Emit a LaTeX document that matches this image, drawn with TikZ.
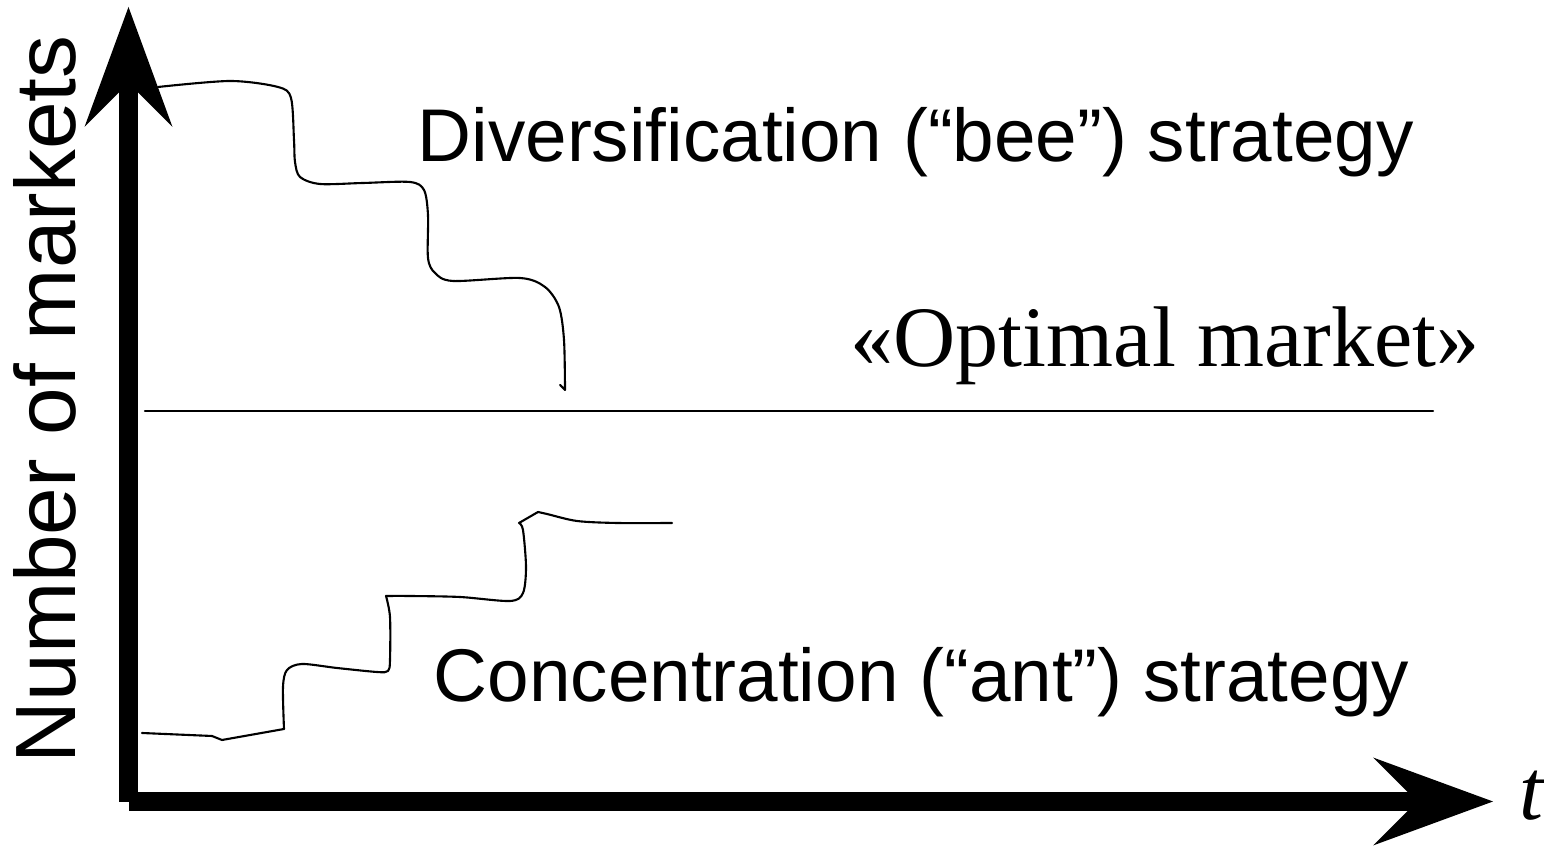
\documentclass[tikz,border=0pt]{standalone}
\usepackage{fontspec}
\usetikzlibrary{arrows.meta}
\newfontfamily\axisfont{Liberation Sans}
\newfontfamily\timesfont{Liberation Serif}

\begin{document}
\begin{tikzpicture}[
    axis/.style={line width=0.19cm, -{Stealth[length=1.2cm, width=0.88cm, inset=0.44cm, line width=0pt]}},
    curve/.style={line width=0.6pt, line join=round, line cap=round},
    sanstext/.style={anchor=base west, inner sep=0pt, font=\axisfont\fontsize{21.25}{25}\selectfont},
    serftext/.style={anchor=base west, inner sep=0pt, font=\timesfont\fontsize{24.5}{29}\selectfont}]
  \useasboundingbox (0,0) rectangle (15.44,8.46);

  % axes
  \coordinate (yfoot) at (1.285,0.44);
  \coordinate (ytop) at (1.285,8.39);
  \coordinate (xfoot) at (1.29,0.445);
  \coordinate (xend) at (14.93,0.445);
  \draw[axis] (yfoot) -- (ytop);
  \draw[axis] (xfoot) -- (xend);

  \node[serftext] (tlab) at (15.19,0.26) {\itshape t};
  \node[sanstext, rotate=90, font=\axisfont\fontsize{24.35}{29}\selectfont] (ylab) at (0.75,0.82) {Number of markets};

  % optimal level
  \coordinate (optleft) at (1.45,4.35);
  \coordinate (optright) at (14.33,4.35);
  \draw[curve] (optleft) -- (optright);
  \node[serftext] (optlab) at (8.50,4.79) {«Optimal market»};

  % bee: many markets, going down
  \draw[curve] plot[smooth, tension=0.5] coordinates {
      (1.58,7.59) (2.30,7.65) (2.78,7.59) (2.91,7.48) (2.94,7.06) (2.95,6.84)
      (3.00,6.69) (3.20,6.62) (3.63,6.63) (4.10,6.64) (4.24,6.56) (4.28,6.31)
      (4.28,5.88) (4.35,5.73) (4.53,5.65) (5.20,5.68) (5.45,5.59) (5.59,5.39)
      (5.64,5.06) (5.65,4.56)} -- (5.60,4.61);
  \node[sanstext] (beelab) at (4.17,6.84) {Diversification (“bee”) strategy};

  % ant: few markets, going up
  \draw[curve] (1.42,1.13) -- (2.12,1.10) -- (2.22,1.06) -- (2.84,1.17);
  \draw[curve] plot[smooth, tension=0.5] coordinates {
      (2.84,1.17) (2.83,1.59) (2.87,1.76) (3.02,1.82) (3.37,1.78) (3.77,1.74)
      (3.88,1.75) (3.90,1.86) (3.90,2.29) (3.86,2.50)};
  \draw[curve] plot[smooth, tension=0.5] coordinates {
      (3.86,2.50) (4.10,2.50) (4.60,2.49) (5.10,2.45) (5.23,2.53) (5.26,2.79)
      (5.23,3.16) (5.19,3.23)} -- (5.38,3.34);
  \draw[curve] plot[smooth, tension=0.5] coordinates {
      (5.38,3.34) (5.47,3.32) (5.77,3.25) (6.17,3.23) (6.72,3.23)};
  \node[sanstext] (antlab) at (4.33,1.44) {Concentration (“ant”) strategy};
\end{tikzpicture}
\end{document}
